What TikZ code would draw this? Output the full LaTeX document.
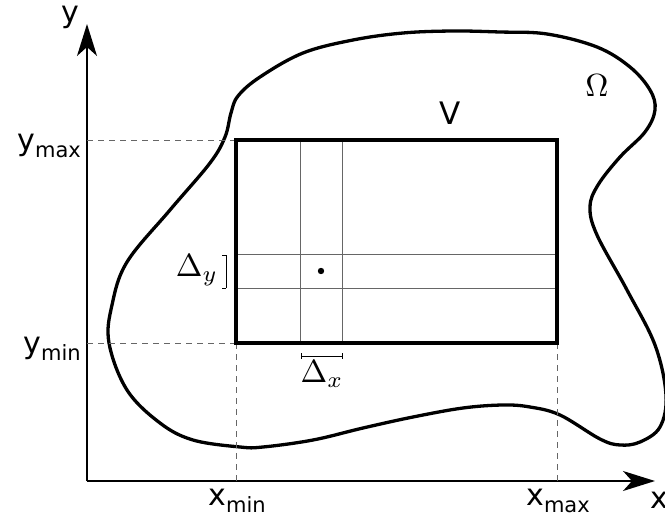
\documentclass[tikz,border=0pt]{standalone}
\usepackage{fontspec}
\setsansfont{DejaVu Sans}
\usetikzlibrary{arrows.meta}
\newcommand{\lbl}[2]{{\fontsize{30}{30}\selectfont #1}\raisebox{-7pt}{\fontsize{21}{21}\selectfont #2}}
\begin{document}
\begin{tikzpicture}[x=1pt,y=-1pt,
  axis/.style={line width=1.8pt,-{Stealth[length=32pt,width=20pt,inset=9pt]}},
  guide/.style={gray!80!black,line width=1pt,dash pattern=on 6pt off 5pt},
  gridln/.style={gray!80!black,line width=1pt},
  lab/.style={font=\sffamily,inner sep=0pt},
  mlab/.style={scale=3.2,inner sep=0pt}]
\useasboundingbox (0,0) rectangle (665,520);
% region Omega
\draw[line width=3.3pt,line join=round] plot[smooth cycle,tension=0.6] coordinates{
 (238,96) (260,77) (303,53) (353,40) (403,33) (453,31) (500,32) (547,34)
 (597,47) (630,67) (650,90) (655,110) (645,132) (620,157) (598,185) (590,207)
 (597,235) (627,290) (655,345) (666,395) (660,427) (640,442) (620,445)
 (600,439) (560,415) (530,407) (503,405) (463,408) (413,417) (363,428)
 (313,440) (263,447) (240,447) (193,440) (160,423) (127,390) (109,343)
 (112,305) (127,262) (170,210) (210,163) (225,137) (231,113)};
% axes
\coordinate (O) at (87,481);
\coordinate (ytip) at (87,24);
\coordinate (xtip) at (655,481);
\draw[axis] (O) -- (ytip);
\draw[axis] (O) -- (xtip);
\node[lab,anchor=base] (ylab) at (70,22) {\fontsize{30}{30}\selectfont y};
\node[lab,anchor=base west] (xlab) at (650,508) {\fontsize{30}{30}\selectfont x};
% rectangle V
\coordinate (A) at (236,343);
\coordinate (B) at (557,140);
\coordinate (yA) at (87,343);
\coordinate (yB) at (87,140);
\coordinate (xA) at (236,481);
\coordinate (xB) at (557,481);
% grid
\coordinate (g1t) at (300,140); \coordinate (g1b) at (300,343);
\coordinate (g2t) at (342,140); \coordinate (g2b) at (342,343);
\coordinate (h1l) at (236,254); \coordinate (h1r) at (557,254);
\coordinate (h2l) at (236,288); \coordinate (h2r) at (557,288);
\draw[gridln] (g1t) -- (g1b) (g2t) -- (g2b) (h1l) -- (h1r) (h2l) -- (h2r);
\draw[guide] (yB) -- (236,140);
\draw[guide] (yA) -- (A);
\draw[guide] (A) -- (xA);
\draw[guide] (557,343) -- (xB);
\draw[line width=3.5pt] (A) rectangle (B);
\fill (321,271) circle (3.2pt);
% brackets
\coordinate (dyt) at (226,255); \coordinate (dyb) at (226,288);
\draw[line width=1pt] (dyt) -- (dyb) (dyt) -- ++(-4,0) (dyb) -- ++(-4,0);
\coordinate (dxl) at (301,356); \coordinate (dxr) at (342,356);
\draw[line width=1pt] (dxl) -- (dxr) (dxl) -- ++(0,-3) (dxl) -- ++(0,3) (dxr) -- ++(0,-3) (dxr) -- ++(0,3);
\node[mlab] (dy) at (197,270) {$\Delta_y$};
\node[mlab] (dx) at (322,374) {$\Delta_x$};
% labels
\node[lab,anchor=base east] (ymax) at (81,150) {\lbl{y}{max}};
\node[lab,anchor=base east] (ymin) at (81,353) {\lbl{y}{min}};
\node[lab,anchor=base] (xmin) at (237,505) {\lbl{x}{min}};
\node[lab,anchor=base] (xmax) at (558,505) {\lbl{x}{max}};
\node[lab,anchor=base] (V) at (450,124) {\fontsize{31}{31}\selectfont V};
\node[mlab] (om) at (597,86) {$\Omega$};
\end{tikzpicture}
\end{document}
